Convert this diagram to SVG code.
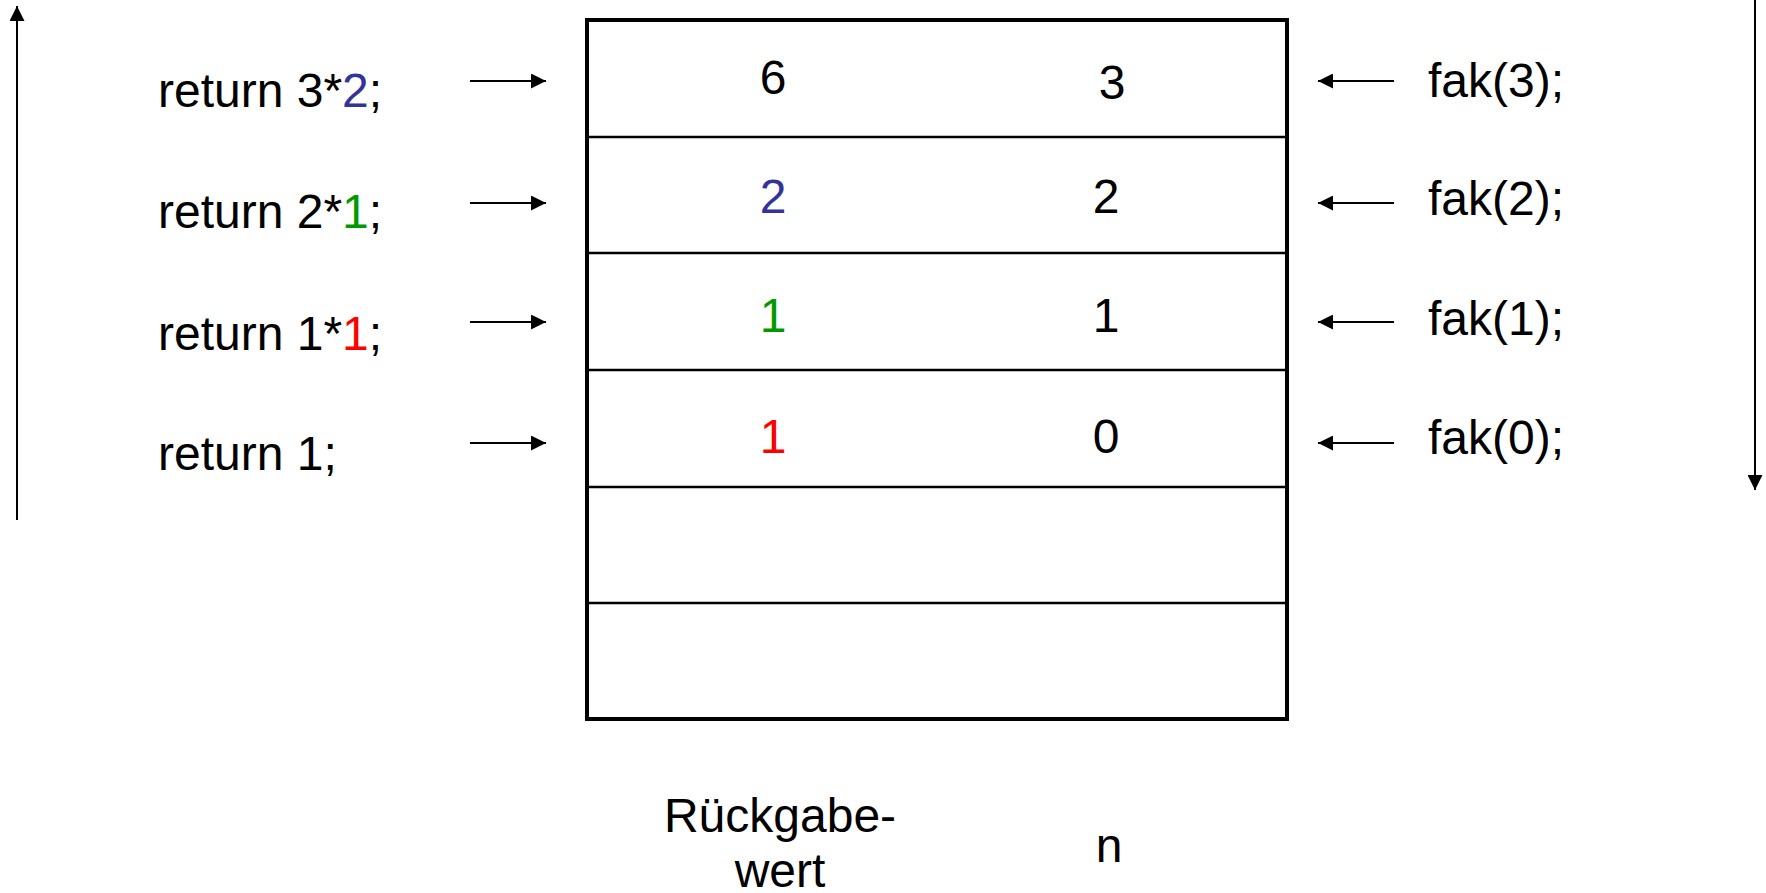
<svg xmlns="http://www.w3.org/2000/svg" width="1766" height="893" viewBox="0 0 1766 893">
<style>
text{font-family:"Liberation Sans",Arial,sans-serif;font-size:48px;fill:#000}
.c{text-anchor:middle}
.blue{fill:#333399}
.green{fill:#009900}
.red{fill:#ff0000}
.thin{stroke:#000;stroke-width:2;fill:none}
.row{stroke:#000;stroke-width:2.5}
.frame{stroke:#000;stroke-width:4;fill:none}
</style>
<defs>
<marker id="ah" viewBox="0 0 10 10" refX="10" refY="5" markerWidth="7.5" markerHeight="7.5" markerUnits="strokeWidth" orient="auto">
<path d="M0,0 L10,5 L0,10 z" fill="#000"/>
</marker>
</defs>
<rect width="1766" height="893" fill="#fff"/>
<g id="table">
<line class="row" x1="587" y1="137" x2="1287" y2="137"/>
<line class="row" x1="587" y1="253" x2="1287" y2="253"/>
<line class="row" x1="587" y1="370" x2="1287" y2="370"/>
<line class="row" x1="587" y1="487" x2="1287" y2="487"/>
<line class="row" x1="587" y1="603" x2="1287" y2="603"/>
<rect class="frame" x="587" y="20" width="700" height="699"/>
<text class="c" x="773" y="94">6</text>
<text class="c" x="1112" y="99">3</text>
<text class="c blue" x="773" y="213">2</text>
<text class="c" x="1106" y="213">2</text>
<text class="c green" x="773" y="332">1</text>
<text class="c" x="1106" y="332">1</text>
<text class="c red" x="773" y="453">1</text>
<text class="c" x="1106" y="453">0</text>
</g>
<g id="labels-left">
<text x="158" y="107">return 3*<tspan class="blue">2</tspan>;</text>
<text x="158" y="228">return 2*<tspan class="green">1</tspan>;</text>
<text x="158" y="350">return 1*<tspan class="red">1</tspan>;</text>
<text x="158" y="470">return 1;</text>
</g>
<g id="labels-right">
<text x="1428" y="97">fak(3);</text>
<text x="1428" y="215">fak(2);</text>
<text x="1428" y="335">fak(1);</text>
<text x="1428" y="454">fak(0);</text>
</g>
<g id="captions">
<text class="c" x="780" y="832">Rückgabe-</text>
<text class="c" x="780" y="887">wert</text>
<text class="c" x="1109" y="862">n</text>
</g>
<g id="connectors">
<line class="thin" x1="470" y1="81" x2="546" y2="81" marker-end="url(#ah)"/>
<line class="thin" x1="470" y1="203" x2="546" y2="203" marker-end="url(#ah)"/>
<line class="thin" x1="470" y1="322" x2="546" y2="322" marker-end="url(#ah)"/>
<line class="thin" x1="470" y1="443" x2="546" y2="443" marker-end="url(#ah)"/>
<line class="thin" x1="1394" y1="81" x2="1318" y2="81" marker-end="url(#ah)"/>
<line class="thin" x1="1394" y1="203" x2="1318" y2="203" marker-end="url(#ah)"/>
<line class="thin" x1="1394" y1="322" x2="1318" y2="322" marker-end="url(#ah)"/>
<line class="thin" x1="1394" y1="443" x2="1318" y2="443" marker-end="url(#ah)"/>
<line class="thin" x1="17" y1="520" x2="17" y2="6" marker-end="url(#ah)"/>
<line class="thin" x1="1755" y1="0" x2="1755" y2="490" marker-end="url(#ah)"/>
</g>
</svg>
